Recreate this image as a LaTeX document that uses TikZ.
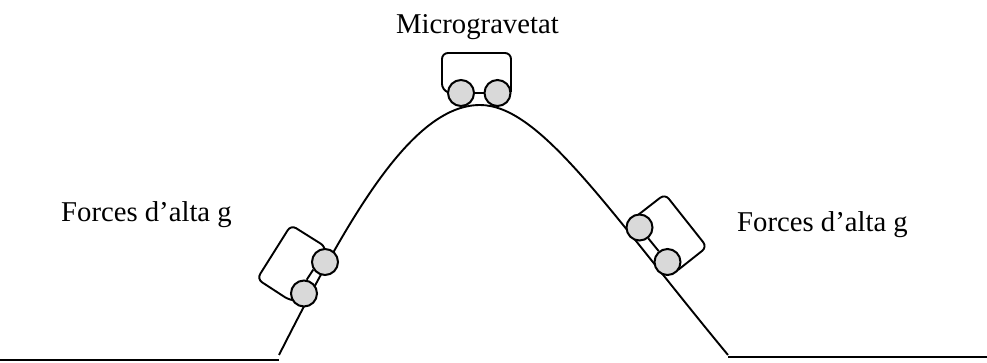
\documentclass[tikz,border=0pt]{standalone}
\usepackage{fontspec}
\setmainfont{Liberation Serif}
\tikzset{
  line/.style={draw=black,line width=1.9pt},
  body/.style={line,rounded corners=6pt},
  wheel/.style={circle,draw=black,line width=2pt,fill=black!15,minimum size=26pt,inner sep=0pt},
  caption/.style={font=\fontsize{28.7pt}{30pt}\selectfont,inner sep=0pt,anchor=base west}
}
\begin{document}
\begin{tikzpicture}[x=1pt,y=-1pt]
\useasboundingbox (0,0) rectangle (987,363);
% flat ground on both sides
\coordinate (gl0) at (0,360); \coordinate (gl1) at (279,360);
\coordinate (gr0) at (728,357); \coordinate (gr1) at (987,357);
\draw[line] (gl0) -- (gl1);
\draw[line] (gr0) -- (gr1);
% the hill
\coordinate (hl) at (279,355);
\coordinate (top) at (480,105);
\coordinate (hr) at (728,355);
\draw[line] (hl) .. controls (345,225) and (410,105) .. (top)
  .. controls (540,105) and (608,210) .. (hr);
% car bodies
\draw[body] (450,93) -- (442,90) -- (442,53) -- (511,53) -- (511,92);
\draw[body] (325,252) -- (326,247) -- (291,225) -- (257,279) -- (290,300.5) -- (296,300.5);
\draw[body] (638,215) -- (665,194) -- (707,247) -- (678,270);
% wheels and axles
\node[wheel] (a1) at (461,93) {};
\node[wheel] (a2) at (497.5,93) {};
\draw[line] (a1) -- (a2);
\node[wheel] (b1) at (325,262) {};
\node[wheel] (b2) at (304,293.5) {};
\draw[line] (b1.213) -- (b2.79);
\node[wheel] (c1) at (639.5,227.5) {};
\node[wheel] (c2) at (667.5,262) {};
\draw[line] (c1) -- (c2);
% labels
\node[caption] (m) at (396,34) {Microgravetat};
\node[caption] (f1) at (61,222) {Forces d’alta g};
\node[caption] (f2) at (737,232) {Forces d’alta g};
\end{tikzpicture}
\end{document}
